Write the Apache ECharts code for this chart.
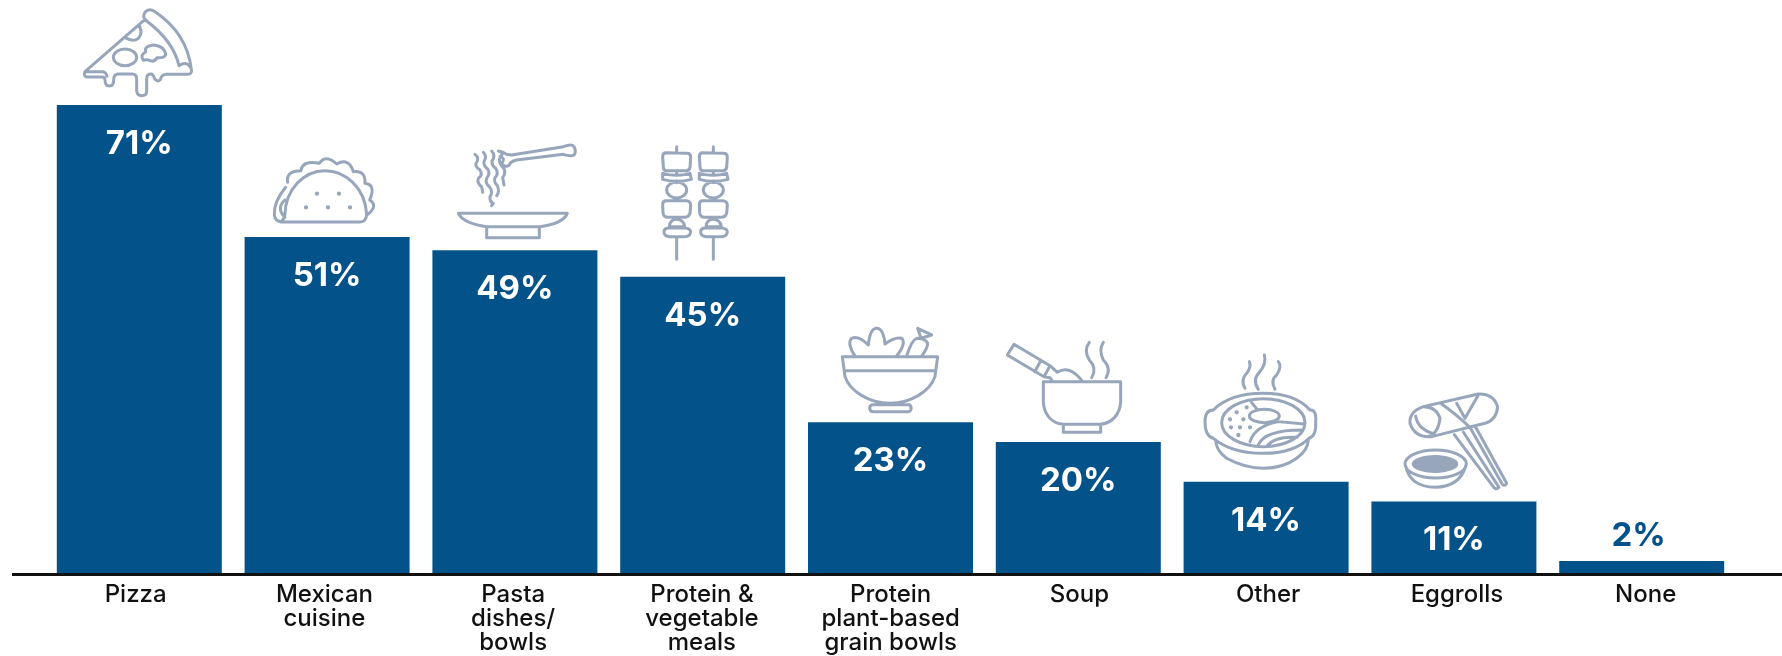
<!DOCTYPE html>
<html><head><meta charset="utf-8">
<style>html,body{margin:0;padding:0;background:#fff}#c{width:1782px;height:656px}</style>
<script src="https://cdn.jsdelivr.net/npm/echarts@6/dist/echarts.min.js"></script>
</head><body><div id="c"></div>
<script>
const categories = ['Pizza','Mexican\ncuisine','Pasta\ndishes/\nbowls','Protein &\nvegetable\nmeals','Protein\nplant-based\ngrain bowls','Soup','Other','Eggrolls','None'];
const values = [71,51,49,45,23,20,14,11,2];

const BLUE='#03538a', ICON='#98a6bc';
function dot(x,y){return `M${x-2} ${y}a2 2 0 1 0 4 0a2 2 0 1 0 -4 0`;}
function ell(x,y,rx,ry){return `M${x-rx} ${y}A${rx} ${ry} 0 1 1 ${x+rx} ${y}A${rx} ${ry} 0 1 1 ${x-rx} ${y}Z`;}
function skewer(d){return [
 `M${80+d} 20L${80+d} 38`,
 `M${48+d} 38L${112+d} 40Q${122+d} 40 ${122+d} 52L${120+d} 82Q${118+d} 92 ${108+d} 92L${50+d} 92Q${40+d} 92 ${40+d} 80L${38+d} 50Q${38+d} 38 ${48+d} 38Z`,
 `M${38+d} 100Q${80+d} 112 ${120+d} 100L${124+d} 118Q${80+d} 130 ${38+d} 118Z`,
 `M${80+d} 92L${80+d} 100M${80+d} 122L${80+d} 128`,
 ell(80+d,150,30,24),
 `M${48+d} 182L${110+d} 182Q${122+d} 184 ${122+d} 196L${120+d} 220Q${116+d} 232 ${104+d} 232L${54+d} 232Q${40+d} 232 ${39+d} 218L${38+d} 194Q${38+d} 182 ${48+d} 182Z`,
 `M${80+d} 232L${80+d} 238M${58+d} 260Q${60+d} 238 ${80+d} 238Q${100+d} 238 ${104+d} 260Z`,
 `M${56+d} 264L${106+d} 264Q${122+d} 266 ${122+d} 276Q${120+d} 290 ${104+d} 290L${58+d} 290Q${42+d} 288 ${42+d} 276Q${42+d} 264 ${56+d} 264Z`,
 `M${80+d} 290L${80+d} 358`].join('');}

const iconPizza = [
 'M30 200L205 48',
 'M30 200Q24 215 38 216L82 216Q90 216 90 226Q90 243 103 243Q116 243 116 226Q116 208 128 207L172 207Q185 207 185 222L185 258Q187 272 200 272Q215 272 215 258L215 222Q215 207 226 207Q236 207 238 220Q246 233 256 224Q260 207 276 208L338 208Q352 208 349 192C340 120 300 60 240 20Q222 8 210 22Q200 36 215 48C268 88 300 130 312 182',
 'M312 182Q336 165 349 192',
 'M30 200L84 200Q94 202 96 214',
 'M150 98Q175 112 190 100Q205 85 192 60',
 ell(150,157,35,25),
 'M205 166Q194 150 212 141Q206 124 236 120Q270 124 272 150Q266 160 246 158Q240 172 226 167Q215 162 205 166Z'
].join('');
const iconTaco = [
 'M58 216L285 216Q304 216 305 192C300 112 240 62 180 62C115 62 62 120 60 192Q58 208 48 216',
 'M58 216Q30 218 28 195Q26 155 62 112',
 'M68 97Q62 62 108 62Q112 30 163 40Q182 12 215 42Q252 22 265 65Q302 60 300 100Q334 104 314 150Q342 168 305 196',
 'M60 150Q32 175 60 202',
 dot(156,131),dot(222,131),dot(123,172),dot(189,172),dot(255,172)
].join('');
const iconPasta = [
 'M25 235L352 235Q340 265 270 275L110 275Q40 265 25 235Z',
 'M110 276L110 308L268 308L268 276',
 'M155 50Q170 60 185 60L340 35Q365 25 372 35Q380 50 372 60Q360 65 340 58L200 75Q180 80 178 90Q165 100 155 85Q168 70 150 65Q165 55 145 48',
 'M75 58Q90 70 78 85Q75 95 90 105Q100 120 85 130Q80 145 95 155L98 172',
 'M100 52Q112 65 102 80Q100 92 113 102Q122 115 110 130Q105 145 118 155Q130 170 120 185Q118 200 130 205L125 212',
 'M125 48Q138 62 126 78Q125 92 137 100Q148 115 135 128Q130 140 142 152Q150 170 140 182',
 'M148 72Q148 88 160 98Q170 112 158 128L162 150'
].join('');
const iconSkewer = skewer(0)+skewer(110);
const iconSalad = [
 'M22 110L308 110L300 170C285 215 225 250 165 250C105 250 45 215 30 170Z',
 'M28 152L302 152',
 'M112 254L222 254Q230 258 228 268Q226 275 218 275L114 275Q104 274 104 264Q104 256 112 254Z',
 'M60 108Q35 70 50 55Q70 45 100 75Q105 25 125 25Q145 25 150 72Q180 50 200 55Q215 70 185 108',
 'M215 108Q230 60 245 55Q270 55 278 70Q278 85 260 108',
 'M248 25L290 45L258 55Z'
].join('');
const iconSoup = [
 'M130 140L362 140L362 200C360 240 335 265 300 268L190 268C155 265 132 240 130 200Z',
 'M190 268L190 292L302 292L302 268',
 'M42 28L150 92L132 125L22 60Z',
 'M122 78L104 110',
 'M150 92L172 112Q205 90 240 130L248 140',
 'M132 125L150 128L158 140',
 'M268 22Q250 45 268 75Q292 100 275 128',
 'M310 22Q295 45 310 75Q335 100 318 128'
].join('');
const iconOther = [
 'M163 35Q170 50 155 70Q135 90 150 115',
 'M208 15Q215 40 195 65Q170 90 190 118',
 'M250 35Q262 50 245 75Q225 90 240 118',
 'M55 180Q105 130 205 130Q300 130 345 180Q365 178 362 215Q365 258 342 265Q295 310 205 310Q110 310 55 265Q30 258 30 215Q30 180 55 180Z',
 ell(205,218,125,72),
 'M62 270Q62 300 95 325Q150 355 205 355Q265 355 305 325Q340 300 340 268',
 ell(208,198,45,20),
 'M170 158L188 180',
 'M165 275Q180 228 250 215L328 222',
 'M190 284Q210 240 320 240',
 'M218 286Q240 258 306 262',
 dot(125,187),dot(155,172),dot(105,208),dot(145,208),dot(108,232),dot(135,232),dot(165,232),dot(130,255)
].join('');
const iconEggroll = [
 'M85 50L250 12Q295 10 308 50Q305 90 270 100L110 140Q60 145 45 100Q42 65 85 50Z',
 'M85 50Q125 50 135 85Q130 130 100 140',
 'M62 78Q68 118 118 132',
 'M140 42Q180 70 225 112',
 'M185 40L210 85M250 15L210 85',
 'M178 134L297 293Q305 300 312 292L205 126',
 'M226 114L322 283Q330 290 335 280L240 108',
 ell(122,222,92,42),
 'M32 228Q45 290 120 292Q195 290 212 228'
].join('');
const soyFill = ell(120,222,70,27);

// icon path, offset of the crop origin from the bar's top-centre point (px)
const icons = [
 [iconPizza,-64.3,-99.9],[iconTaco,-62.1,-87.1],[iconPasta,-64.9,-115.3],[iconSkewer,-52.7,-136.75],
 [iconSalad,-55.5,-102.2],[iconSoup,-78.3,-107],[iconOther,-71.1,-131.7],[iconEggroll,-58.9,-111.5]
];

const FONT='Inter';
const chart = echarts.init(document.getElementById('c'));
chart.setOption({
 animation:false,
 backgroundColor:'#fff',
 grid:[
  {left:45.4,width:1690.2,top:45.4,height:528.8,outerBoundsMode:'none'},
  {left:41.3,width:1698.75,top:45.4,height:528.8,outerBoundsMode:'none'}
 ],
 xAxis:[
  {type:'category',gridIndex:0,data:categories,axisLine:{show:false},axisTick:{show:false},axisLabel:{show:false}},
  {type:'category',gridIndex:1,data:categories,axisLine:{show:false},axisTick:{show:false},
   axisLabel:{show:true,interval:0,margin:9,color:'#111',fontFamily:FONT,fontWeight:500,fontSize:24,lineHeight:24}}
 ],
 yAxis:[
  {type:'value',gridIndex:0,min:0,max:80,show:false},
  {type:'value',gridIndex:1,min:0,max:80,show:false}
 ],
 graphic:[{type:'rect',shape:{x:12,y:573,width:1770,height:3},style:{fill:'#111'},z:10}],
 series:[
  {type:'bar',xAxisIndex:0,yAxisIndex:0,barWidth:165,itemStyle:{color:BLUE},silent:true,
   data:values.map((v,i)=>{
     const o={value:v};
     if(v<5) o.label={position:'top',distance:8,offset:[-3,0],color:BLUE};
     return o;
   }),
   label:{show:true,position:'insideTop',distance:22.5,formatter:'{c}%',color:'#fff',fontFamily:FONT,fontWeight:700,fontSize:33}
  },
  {type:'custom',xAxisIndex:0,yAxisIndex:0,silent:true,clip:false,z:3,
   data:icons.map((_,i)=>[i,values[i]]),
   encode:{x:0,y:1},
   renderItem(params,api){
     const i=api.value(0), p=api.coord([i,api.value(1)]), ic=icons[i];
     const common={x:ic[1],y:ic[2],scaleX:1/3,scaleY:1/3};
     const children=[{type:'path',shape:{pathData:ic[0]},...common,
        style:{fill:'none',stroke:ICON,lineWidth:9,lineJoin:'round',lineCap:'round'}}];
     if(i===7) children.push({type:'path',shape:{pathData:soyFill},...common,style:{fill:ICON,stroke:'none'}});
     return {type:'group',x:p[0],y:p[1],children};
   }
  }
 ]
});
</script></body></html>
